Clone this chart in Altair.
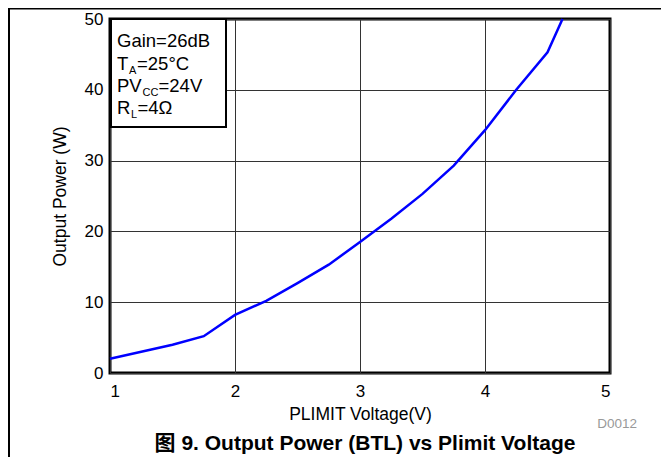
import altair as alt
import pandas as pd

voltage = [1.0, 1.25, 1.5, 1.75, 2.0, 2.25, 2.5, 2.75, 3.0, 3.25, 3.5, 3.75, 4.0, 4.25, 4.5, 4.62]
power = [2.0, 3.0, 4.0, 5.2, 8.2, 10.2, 12.7, 15.3, 18.5, 21.8, 25.3, 29.3, 34.3, 40.0, 45.3, 50.0]

x_ticks = [1, 2, 3, 4, 5]
y_ticks = [0, 10, 20, 30, 40, 50]

df = pd.DataFrame({"v": voltage, "p": power})
FONT = "Liberation Sans, Arial, Noto Sans CJK SC"

line = alt.Chart(df).mark_line(color="#0000FF", strokeWidth=2.5).encode(
    x=alt.X("v:Q", scale=alt.Scale(domain=[1, 5], nice=False),
            axis=alt.Axis(values=x_ticks, title="PLIMIT Voltage(V)", format="d")),
    y=alt.Y("p:Q", scale=alt.Scale(domain=[0, 50], nice=False),
            axis=alt.Axis(values=y_ticks, title="Output Power (W)", format="d")),
)

one = pd.DataFrame({"a": [0]})


def txt(s, x, y, size=18.5, align="left", color="black", weight="normal"):
    return alt.Chart(one).mark_text(
        text=s, align=align, baseline="alphabetic", fontSize=size,
        font=FONT, color=color, fontWeight=weight
    ).encode(x=alt.value(x), y=alt.value(y))


def rule(x, x2, y, y2, w=2):
    return alt.Chart(one).mark_rule(color="black", strokeWidth=w).encode(
        x=alt.value(x), x2=alt.value(x2), y=alt.value(y), y2=alt.value(y2))


box = alt.Chart(one).mark_rect(fill="white", stroke="black", strokeWidth=2).encode(
    x=alt.value(1), x2=alt.value(116), y=alt.value(0), y2=alt.value(108))

SUB = 11
layers = [
    line,
    box,
    txt("Gain=26dB", 7, 28),
    txt("T", 7, 51), txt("A", 19, 54.5, size=SUB), txt("=25°C", 27, 51),
    txt("PV", 7, 73), txt("CC", 32.5, 76.5, size=SUB), txt("=24V", 48.5, 73),
    txt("R", 7, 95), txt("L", 21, 98.5, size=SUB), txt("=4Ω", 27.5, 95),
    txt("D0012", 527, 409, size=13.5, align="right", color="#999999"),
    txt("图 9. Output Power (BTL) vs Plimit Voltage", 255, 431, size=21,
        align="center", weight="bold"),
    rule(-101, -101, -11, 440),
    rule(-101, 560, -10.5, -10.5),
]

chart = alt.layer(*layers).properties(
    width=500, height=354,
    autosize=alt.AutoSizeParams(type="none"),
    padding={"left": 102, "top": 11, "right": 51, "bottom": 84},
    background="white",
).configure_view(
    stroke="black", strokeWidth=3
).configure_axis(
    domain=False, ticks=False, grid=True, gridColor="#333333", gridWidth=1,
    labelFont=FONT, labelFontSize=17, labelColor="black",
    titleFont=FONT, titleFontSize=17.5, titleFontWeight="normal", titleColor="black",
).configure_axisX(
    labelPadding=10, titlePadding=6
).configure_axisY(
    labelPadding=7, titlePadding=15
)

chart.save("out.html", embed_options={"renderer": "svg", "actions": False})
